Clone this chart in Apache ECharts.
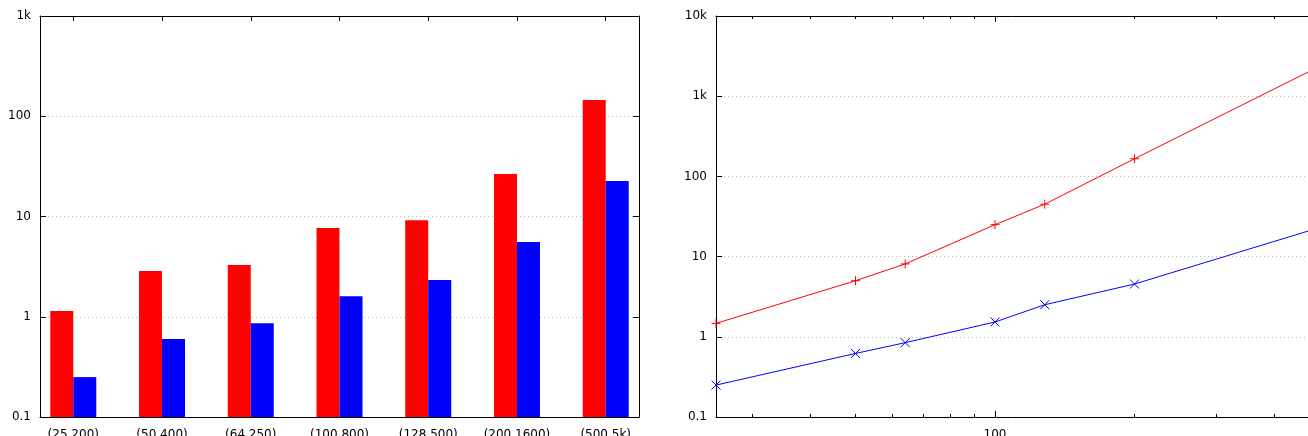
<!DOCTYPE html>
<html>
<head>
<meta charset="utf-8">
<script src="https://cdn.jsdelivr.net/npm/echarts@6/dist/echarts.min.js"></script>
<style>
  html, body { margin: 0; padding: 0; background: #fff; }
  #main { width: 1308px; height: 436px; }
</style>
</head>
<body>
<div id="main"></div>
<script>
// data
var categories = ['(25,200)', '(50,400)', '(64,250)', '(100,800)', '(128,500)', '(200,1600)', '(500,5k)'];
var barRed = [1.14, 2.86, 3.28, 7.7, 9.2, 26.5, 145];
var barBlue = [0.25, 0.60, 0.86, 1.6, 2.33, 5.57, 22.6];

var sizes = [25, 50, 64, 100, 128, 200, 500];
var lineRed = [1.47, 5.0, 8.1, 25, 45, 166, 2340];
var lineBlue = [0.25, 0.62, 0.845, 1.53, 2.51, 4.55, 22.9];

// tick labels
var leftYTicks = [0.1, 1, 10, 100, 1000];
var rightYTicks = [0.1, 1, 10, 100, 1000, 10000];
var yTickText = ['0.1', '1', '10', '100', '1k', '10k'];   // by decade, from 0.1
var xMajorTicks = [100];
var xMinorTicks = [30, 40, 50, 60, 70, 80, 90, 200, 300, 400, 500];

var catIdx = categories.map(function (c, i) { return i; });
var font = { fontFamily: 'DejaVu Sans', fontSize: 12, color: '#000' };
var black = { color: '#000', width: 1 };
var dots = { show: true, lineStyle: { color: '#bbb', width: 1, type: [1, 3] } };

function yText(v) {
    return yTickText[Math.round(Math.log10(v)) + 1];
}

function pairs(xs, ys) {
    return ys.map(function (y, i) { return [xs[i], y]; });
}

// one axis side: line, inward ticks, optional labels
function side(base, ticks, len, labels, showLine) {
    return Object.assign({
        z: 5,
        axisLine: { show: showLine !== false, onZero: false, lineStyle: black },
        axisTick: ticks ? { show: true, inside: true, length: len, lineStyle: black, customValues: ticks } : { show: false },
        axisLabel: labels ? Object.assign({ margin: 12, customValues: labels.values, formatter: labels.fmt }, font) : { show: false },
        splitLine: { show: false }
    }, base);
}

var leftX = { gridIndex: 0, type: 'value', min: -0.375, max: 6.375 };
var leftY = { gridIndex: 0, type: 'log', logBase: 10, min: 0.1, max: 1000, startValue: 0.1 };
var rightX = { gridIndex: 1, type: 'log', logBase: 10, min: 25, max: 500 };
var rightY = { gridIndex: 1, type: 'log', logBase: 10, min: 0.1, max: 10000 };

var yLeftMain = side(Object.assign({ position: 'left', z: 0 }, leftY), leftYTicks, 6,
    { values: leftYTicks, fmt: yText });
yLeftMain.axisLabel.margin = 9;
yLeftMain.splitLine = dots;

var yRightMain = side(Object.assign({ position: 'left', z: 0 }, rightY), rightYTicks, 6,
    { values: rightYTicks, fmt: yText });
yRightMain.axisLabel.margin = 9;
yRightMain.splitLine = dots;

var myChart = echarts.init(document.getElementById('main'));
myChart.setOption({
    animation: false,
    grid: [
        { left: 40, width: 599, top: 16, height: 401, outerBoundsMode: 'none' },
        { left: 716, width: 603, top: 16, height: 401, outerBoundsMode: 'none' }
    ],
    xAxis: [
        side(Object.assign({ position: 'bottom' }, leftX), null, 0,
            { values: catIdx, fmt: function (v) { return categories[Math.round(v)]; } }),
        side(Object.assign({ position: 'top' }, leftX), catIdx, 5, null),
        side(Object.assign({ position: 'bottom' }, rightX), xMajorTicks, 6, { values: xMajorTicks }),
        side(Object.assign({ position: 'bottom' }, rightX), xMinorTicks, 3, null, false),
        side(Object.assign({ position: 'top' }, rightX), xMajorTicks, 6, null),
        side(Object.assign({ position: 'top' }, rightX), xMinorTicks, 3, null, false)
    ],
    yAxis: [
        yLeftMain,
        side(Object.assign({ position: 'right' }, leftY), leftYTicks, 6, null),
        yRightMain,
        side(Object.assign({ position: 'right' }, rightY), rightYTicks, 6, null)
    ],
    series: [
        {
            type: 'bar', xAxisIndex: 0, yAxisIndex: 0,
            barWidth: 23, barGap: '0%',
            itemStyle: { color: '#ff0000' },
            data: pairs(catIdx, barRed)
        },
        {
            type: 'bar', xAxisIndex: 0, yAxisIndex: 0,
            barWidth: 23, barGap: '0%',
            itemStyle: { color: '#0000ff' },
            data: pairs(catIdx, barBlue)
        },
        {
            type: 'line', xAxisIndex: 2, yAxisIndex: 2,
            symbol: 'path://M0,5L10,5M5,0L5,10', symbolSize: 9,
            itemStyle: { color: '#ff0000', borderColor: '#ff0000', borderWidth: 1 },
            lineStyle: { color: '#ff0000', width: 1 },
            data: pairs(sizes, lineRed)
        },
        {
            type: 'line', xAxisIndex: 2, yAxisIndex: 2,
            symbol: 'path://M0,0L10,10M10,0L0,10', symbolSize: 9,
            itemStyle: { color: '#0000ff', borderColor: '#0000ff', borderWidth: 1 },
            lineStyle: { color: '#0000ff', width: 1 },
            data: pairs(sizes, lineBlue)
        }
    ]
});
</script>
</body>
</html>
